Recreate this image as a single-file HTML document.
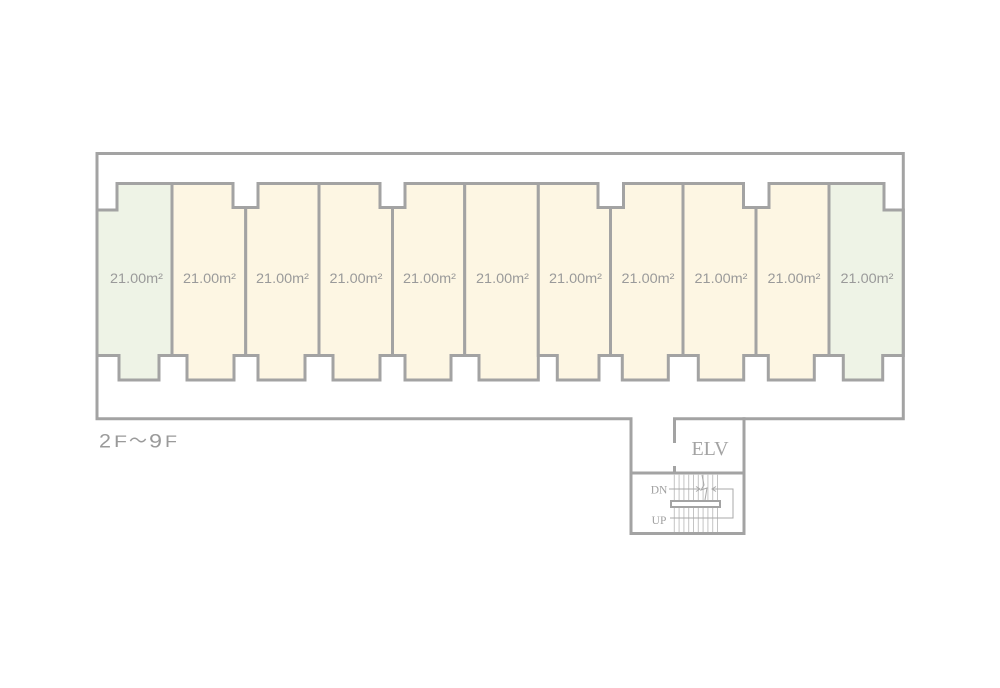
<!DOCTYPE html>
<html>
<head>
<meta charset="utf-8">
<style>
html,body{margin:0;padding:0;background:#fff;}
svg{display:block;}
</style>
</head>
<body>
<svg width="1000" height="688" viewBox="0 0 1000 688" xmlns="http://www.w3.org/2000/svg">
<rect width="1000" height="688" fill="#fff"/>
<g stroke="#a3a3a3" stroke-width="3" stroke-linejoin="miter">
<polygon fill="#eef3e6" points="97,210 117,210 117,183.5 172,183.5 172,355.5 159,355.5 159,380 119,380 119,355.5 97,355.5"/>
<polygon fill="#fdf6e3" points="172,183.5 233,183.5 233,207.5 245.7,207.5 245.7,355.5 234,355.5 234,380 187,380 187,355.5 172,355.5"/>
<polygon fill="#fdf6e3" points="245.7,207.5 258,207.5 258,183.5 319,183.5 319,355.5 305,355.5 305,380 258,380 258,355.5 245.7,355.5"/>
<polygon fill="#fdf6e3" points="319,183.5 380,183.5 380,207.5 392.5,207.5 392.5,355.5 380,355.5 380,380 333,380 333,355.5 319,355.5"/>
<polygon fill="#fdf6e3" points="392.5,207.5 405,207.5 405,183.5 464.7,183.5 464.7,355.5 451,355.5 451,380 405,380 405,355.5 392.5,355.5"/>
<polygon fill="#fdf6e3" points="464.7,183.5 538.3,183.5 538.3,380 479,380 479,355.5 464.7,355.5"/>
<polygon fill="#fdf6e3" points="538.3,183.5 598,183.5 598,207.5 610.5,207.5 610.5,355.5 599,355.5 599,380 557.3,380 557.3,355.5 538.3,355.5"/>
<polygon fill="#fdf6e3" points="610.5,207.5 623.5,207.5 623.5,183.5 683,183.5 683,355.5 668.3,355.5 668.3,380 622.3,380 622.3,355.5 610.5,355.5"/>
<polygon fill="#fdf6e3" points="683,183.5 743.5,183.5 743.5,207.5 756,207.5 756,355.5 743.7,355.5 743.7,380 698.3,380 698.3,355.5 683,355.5"/>
<polygon fill="#fdf6e3" points="756,207.5 769,207.5 769,183.5 829,183.5 829,355.5 814.3,355.5 814.3,380 768.3,380 768.3,355.5 756,355.5"/>
<polygon fill="#eef3e6" points="829,183.5 884,183.5 884,210 903.3,210 903.3,355.5 882.7,355.5 882.7,380 843.3,380 843.3,355.5 829,355.5"/>
<polyline fill="none" points="631,535 631,418.7 97,418.7 97,153.5 903.3,153.5 903.3,418.7 674.5,418.7 674.5,443"/>
<line x1="674.5" y1="466" x2="674.5" y2="473"/>
<polyline fill="none" points="631,533.5 744,533.5 744,417.2"/>
<line x1="631" y1="473" x2="744" y2="473"/>
</g>
<g stroke="#c4c4c4" stroke-width="1">
<line x1="674.3" y1="474" x2="674.3" y2="532"/>
<line x1="679.1" y1="474" x2="679.1" y2="532"/>
<line x1="683.9" y1="474" x2="683.9" y2="532"/>
<line x1="688.7" y1="474" x2="688.7" y2="532"/>
<line x1="693.5" y1="474" x2="693.5" y2="532"/>
<line x1="698.3" y1="474" x2="698.3" y2="532"/>
<line x1="703.1" y1="474" x2="703.1" y2="532"/>
<line x1="707.9" y1="474" x2="707.9" y2="532"/>
<line x1="712.7" y1="474" x2="712.7" y2="532"/>
<line x1="717.5" y1="474" x2="717.5" y2="532"/>
</g>
<g stroke="#a8a8a8" stroke-width="1" fill="none">
<line x1="669" y1="489" x2="700" y2="489"/>
<polyline points="696,486.5 700,489 696,491.5"/>
<polyline points="712,489 733,489 733,518 670,518"/>
<polyline points="716,486.5 712,489 716,491.5"/>
<polyline points="702,475 704,485 701,490 707,488 705,500"/>
</g>
<rect x="671" y="501" width="49" height="6" fill="#fff" stroke="#a3a3a3" stroke-width="2"/>
<g font-family="Liberation Sans, sans-serif" font-size="13.5" fill="#9a9a9a" text-anchor="middle">
<text x="136.5" y="283" textLength="53" lengthAdjust="spacingAndGlyphs">21.00m²</text>
<text x="209.5" y="283" textLength="53" lengthAdjust="spacingAndGlyphs">21.00m²</text>
<text x="282.5" y="283" textLength="53" lengthAdjust="spacingAndGlyphs">21.00m²</text>
<text x="356" y="283" textLength="53" lengthAdjust="spacingAndGlyphs">21.00m²</text>
<text x="429.5" y="283" textLength="53" lengthAdjust="spacingAndGlyphs">21.00m²</text>
<text x="502.5" y="283" textLength="53" lengthAdjust="spacingAndGlyphs">21.00m²</text>
<text x="575.5" y="283" textLength="53" lengthAdjust="spacingAndGlyphs">21.00m²</text>
<text x="648" y="283" textLength="53" lengthAdjust="spacingAndGlyphs">21.00m²</text>
<text x="721" y="283" textLength="53" lengthAdjust="spacingAndGlyphs">21.00m²</text>
<text x="794" y="283" textLength="53" lengthAdjust="spacingAndGlyphs">21.00m²</text>
<text x="867" y="283" textLength="53" lengthAdjust="spacingAndGlyphs">21.00m²</text>
</g>
<text x="710" y="455" font-family="Liberation Serif, serif" font-size="20" fill="#a3a3a3" text-anchor="middle">ELV</text>
<text x="659" y="493.5" font-family="Liberation Serif, serif" font-size="11.5" fill="#a0a0a0" text-anchor="middle">DN</text>
<text x="659" y="524" font-family="Liberation Serif, serif" font-size="11.5" fill="#a0a0a0" text-anchor="middle">UP</text>
<g font-family="Liberation Sans, sans-serif" fill="#9a9a9a">
<text x="99" y="447.5" font-size="19" textLength="12" lengthAdjust="spacingAndGlyphs">2</text>
<text x="114" y="447" font-size="17" textLength="13" lengthAdjust="spacingAndGlyphs">F</text>
<text x="129" y="447" font-size="19" textLength="18" lengthAdjust="spacingAndGlyphs">～</text>
<text x="149" y="447.5" font-size="19" textLength="13" lengthAdjust="spacingAndGlyphs">9</text>
<text x="165" y="447" font-size="17" textLength="12" lengthAdjust="spacingAndGlyphs">F</text>
</g>
</svg>
</body>
</html>
